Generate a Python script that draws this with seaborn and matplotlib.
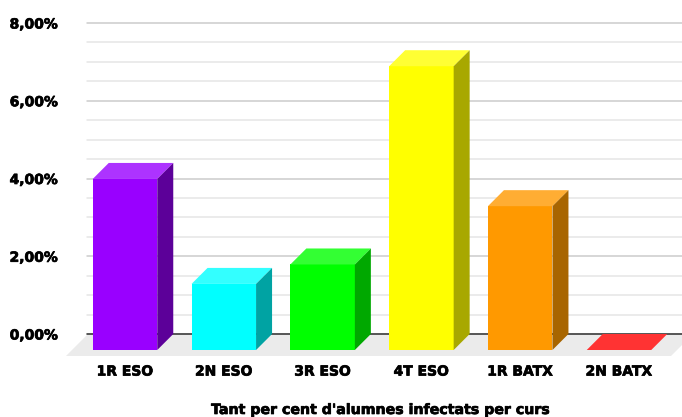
import matplotlib
matplotlib.use('Agg')
import matplotlib.pyplot as plt
import matplotlib.patheffects as pe
from matplotlib.patches import Polygon
from matplotlib.ticker import MultipleLocator, FuncFormatter
import pandas as pd
import seaborn as sns

cursos = ['1R ESO', '2N ESO', '3R ESO', '4T ESO', '1R BATX', '2N BATX']
infectats = [4.4, 1.7, 2.2, 7.3, 3.7, 0.0]

front_colors = ['#9900ff', '#00ffff', '#00ff00', '#ffff00', '#ff9900', '#ff0000']
top_colors = ['#ad33ff', '#33ffff', '#33ff33', '#ffff33', '#ffad33', '#ff3333']
side_colors = ['#5c0099', '#00a3a3', '#00a800', '#a8a800', '#a86500', '#a80000']

sns.set_theme(style='white')
plt.rcParams['font.family'] = ['DejaVu Sans']

W, H = 682, 417
fig = plt.figure(figsize=(W / 100, H / 100), dpi=100)
# axes span the back wall of the 3D box: 0% at y=334px, 8% at y=23px
ax = fig.add_axes([87 / W, (H - 334) / H, (682 - 87) / W, (334 - 23) / H])

px_x = 98.8  # pixels per category
px_y = (334 - 23) / 8  # pixels per percent unit
dx = 16 / px_x  # depth of the bars in data units
dy = 16 / px_y
bar_w = 0.653

df = pd.DataFrame({'curs': cursos, 'pct': infectats})
sns.barplot(data=df, x='curs', y='pct', hue='curs', palette=front_colors, legend=False,
            saturation=1, width=bar_w, bottom=-dy, ax=ax, zorder=3, clip_on=False, linewidth=0)

ax.set_xlim((87 - 125) / px_x, (682 - 125) / px_x)
ax.set_ylim(0, 8)

# floor
floor_d = 22 / px_y
floor_x = 22 / px_x
fl, fr = (66 - 125) / px_x, (671 - 125) / px_x
ax.add_patch(Polygon([(fl, -floor_d), (fr, -floor_d), (fr + floor_x, 0), (fl + floor_x, 0)],
                     facecolor='#ebebeb', edgecolor='none', zorder=0.5, clip_on=False))

# top and side faces
for i, v in enumerate(infectats):
    x0, x1 = i - bar_w / 2, i + bar_w / 2
    ax.add_patch(Polygon([(x0, v - dy), (x1, v - dy), (x1 + dx, v), (x0 + dx, v)],
                         facecolor=top_colors[i], edgecolor='none', zorder=3, clip_on=False))
    if v > 0:
        ax.add_patch(Polygon([(x1, -dy), (x1 + dx, 0), (x1 + dx, v), (x1, v - dy)],
                             facecolor=side_colors[i], edgecolor='none', zorder=3, clip_on=False))

ax.set_axisbelow(True)
ax.yaxis.set_major_locator(MultipleLocator(2))
ax.yaxis.set_minor_locator(MultipleLocator(0.5))
ax.yaxis.set_major_formatter(FuncFormatter(lambda v, _: f'{v:.2f}'.replace('.', ',') + '%'))
ax.grid(True, which='major', axis='y', color='#cccccc', linewidth=1.1, clip_on=False)
ax.grid(True, which='minor', axis='y', color='#e6e6e6', linewidth=1.1, clip_on=False)
ax.grid(False, axis='x')
ax.axhline(0, color='#333333', linewidth=1.1, zorder=1, clip_on=False)

for side in ax.spines:
    ax.spines[side].set_visible(False)
ax.tick_params(axis='y', which='both', length=0, pad=21, labelsize=10)
ax.tick_params(axis='x', length=0, pad=22, labelsize=10)

# the source font is heavier than DejaVu Bold, thicken it with a thin stroke
heavy = [pe.withStroke(linewidth=0.5, foreground='black')]
for lab in ax.get_xticklabels() + ax.get_yticklabels():
    lab.set_fontweight('bold')
    lab.set_color('black')
    lab.set_path_effects(heavy)

ax.set_ylabel('')
ax.set_xlabel("Tant per cent d'alumnes infectats per curs", fontsize=10.2, fontweight='bold',
              color='black', path_effects=heavy)
ax.xaxis.set_label_coords((380 - 87) / (682 - 87), -(410 - 334) / (334 - 23))
ax.xaxis.label.set_va('center')

fig.savefig('out.png', dpi=100)
